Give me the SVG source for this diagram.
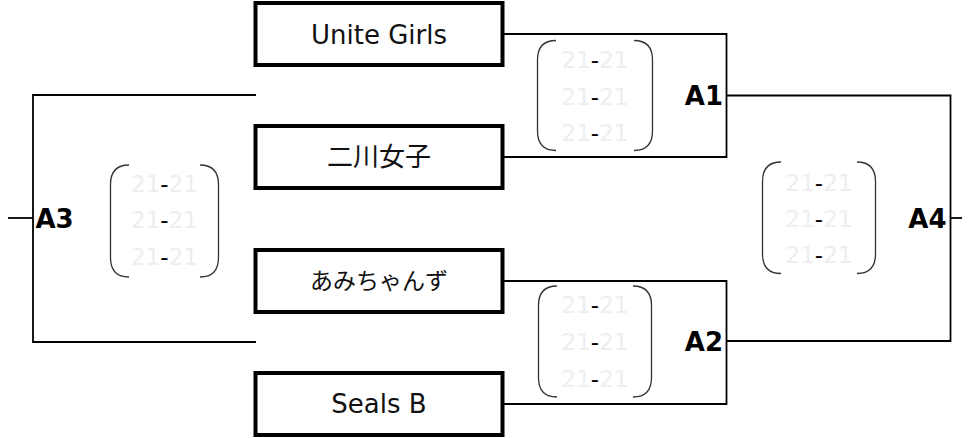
<svg xmlns="http://www.w3.org/2000/svg" width="970" height="438" viewBox="0 0 970 438">
<style>
.box{fill:#fff;stroke:#000;stroke-width:4}
.name{font-family:"DejaVu Sans","Noto Sans CJK JP",sans-serif;font-size:26px;fill:#111;text-anchor:middle}
.jp{font-family:"Noto Sans CJK JP","DejaVu Sans",sans-serif;font-size:26px;fill:#111;text-anchor:middle}
.conn{fill:none;stroke:#000;stroke-width:1.8}
.par{fill:none;stroke:#333;stroke-width:1.3}
.lbl{font-family:"DejaVu Sans",sans-serif;font-size:26px;font-weight:bold;fill:#000}
.sc{font-family:"DejaVu Sans",sans-serif;font-size:23px;text-anchor:middle}
.lt{fill:#eeeeee}
.dk{fill:#000}
</style>
<rect width="970" height="438" fill="#fff"/>
<g id="connectors">
<path class="conn" d="M503 34 H726.5 V157 H503"/>
<path class="conn" d="M503 281 H726.5 V404 H503"/>
<path class="conn" d="M726.5 95.5 H950.5 V341 H726.5"/>
<path class="conn" d="M256 95 H33 V342 H256"/>
<path class="conn" d="M8 218 H33"/>
<path class="conn" d="M950.5 218 H962"/>
</g>
<g id="team1"><rect class="box" x="255.5" y="3" width="247" height="62"/><text class="name" x="379" y="43.5">Unite Girls</text></g>
<g id="team2"><rect class="box" x="255.5" y="126" width="247" height="62"/><text class="jp" x="379" y="166">二川女子</text></g>
<g id="team3"><rect class="box" x="255.5" y="250" width="247" height="62"/><text class="jp" x="379" y="289" style="font-size:23px">あみちゃんず</text></g>
<g id="team4"><rect class="box" x="255.5" y="373" width="247" height="62"/><text class="name" x="379" y="413">Seals B</text></g>
<g id="A1">
<text class="lbl" x="723" y="105" text-anchor="end">A1</text>
<path class="par" d="M556 40.5 C544 40.5 537.5 47 537.5 60 V131 C537.5 144 544 150.5 556 150.5"/>
<path class="par" d="M634 40.5 C646 40.5 652.5 47 652.5 60 V131 C652.5 144 646 150.5 634 150.5"/>
<text class="sc" x="595" y="68.3"><tspan class="lt">21</tspan><tspan class="dk">-</tspan><tspan class="lt">21</tspan></text>
<text class="sc" x="595" y="105"><tspan class="lt">21</tspan><tspan class="dk">-</tspan><tspan class="lt">21</tspan></text>
<text class="sc" x="595" y="140.5"><tspan class="lt">21</tspan><tspan class="dk">-</tspan><tspan class="lt">21</tspan></text>
</g>
<g id="A2">
<text class="lbl" x="723" y="351" text-anchor="end">A2</text>
<path class="par" d="M557 286 C545 286 538.5 292.5 538.5 305.5 V377.5 C538.5 390.5 545 397 557 397"/>
<path class="par" d="M633 286 C645 286 651.5 292.5 651.5 305.5 V377.5 C651.5 390.5 645 397 633 397"/>
<text class="sc" x="595" y="313.3"><tspan class="lt">21</tspan><tspan class="dk">-</tspan><tspan class="lt">21</tspan></text>
<text class="sc" x="595" y="350"><tspan class="lt">21</tspan><tspan class="dk">-</tspan><tspan class="lt">21</tspan></text>
<text class="sc" x="595" y="386.7"><tspan class="lt">21</tspan><tspan class="dk">-</tspan><tspan class="lt">21</tspan></text>
</g>
<g id="A3">
<text class="lbl" x="35.5" y="227.5">A3</text>
<path class="par" d="M129 165 C117 165 110.5 171.5 110.5 184.5 V257.5 C110.5 270.5 117 277 129 277"/>
<path class="par" d="M200 165 C212 165 218.5 171.5 218.5 184.5 V257.5 C218.5 270.5 212 277 200 277"/>
<text class="sc" x="164.5" y="191.7"><tspan class="lt">21</tspan><tspan class="dk">-</tspan><tspan class="lt">21</tspan></text>
<text class="sc" x="164.5" y="228.3"><tspan class="lt">21</tspan><tspan class="dk">-</tspan><tspan class="lt">21</tspan></text>
<text class="sc" x="164.5" y="265"><tspan class="lt">21</tspan><tspan class="dk">-</tspan><tspan class="lt">21</tspan></text>
</g>
<g id="A4">
<text class="lbl" x="946.5" y="227.5" text-anchor="end">A4</text>
<path class="par" d="M781 162 C769 162 762.5 168.5 762.5 181.5 V254 C762.5 267 769 273.5 781 273.5"/>
<path class="par" d="M857 162 C869 162 875.5 168.5 875.5 181.5 V254 C875.5 267 869 273.5 857 273.5"/>
<text class="sc" x="819" y="191"><tspan class="lt">21</tspan><tspan class="dk">-</tspan><tspan class="lt">21</tspan></text>
<text class="sc" x="819" y="226.7"><tspan class="lt">21</tspan><tspan class="dk">-</tspan><tspan class="lt">21</tspan></text>
<text class="sc" x="819" y="263.3"><tspan class="lt">21</tspan><tspan class="dk">-</tspan><tspan class="lt">21</tspan></text>
</g>
</svg>
